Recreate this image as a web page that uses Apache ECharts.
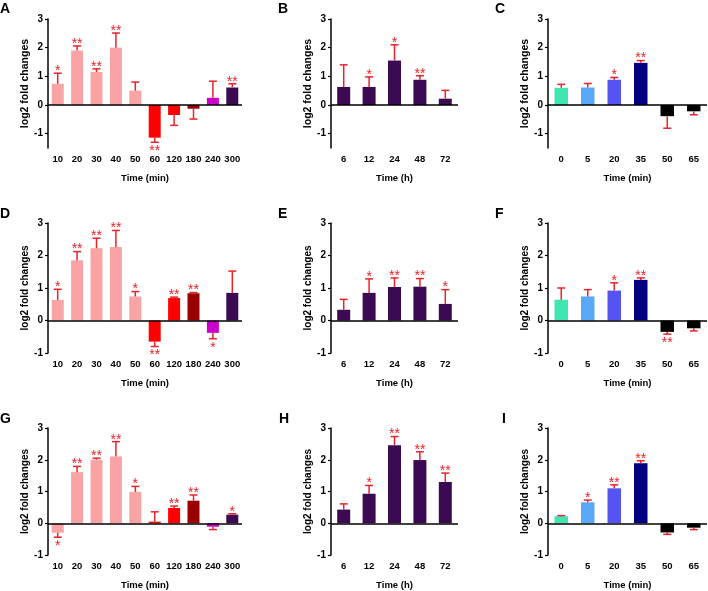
<!DOCTYPE html>
<html>
<head>
<meta charset="utf-8">
<script src="https://cdn.jsdelivr.net/npm/echarts@6/dist/echarts.min.js"></script>
<style>html,body{margin:0;padding:0;background:#fff}#c{width:708px;height:591px}</style>
</head>
<body>
<div id="c"></div>
<script>
// ---------- categories ----------
const catsMin10 = ['10','20','30','40','50','60','120','180','240','300'];
const catsHours = ['6','12','24','48','72'];
const catsMin6  = ['0','5','20','35','50','65'];

// ---------- values (log2 fold changes), error-bar ends, significance ----------
const valsA = [0.74,1.90,1.15,2.00,0.50,-1.14,-0.35,-0.13,0.25,0.61];
const errA  = [1.11,2.06,1.26,2.51,0.80,-1.30,-0.71,-0.49,0.83,0.74];
const sigA  = ['*','**','**','**','','**','','','','**'];

const valsB = [0.63,0.63,1.55,0.88,0.22];
const errB  = [1.40,0.98,2.10,1.02,0.51];
const sigB  = ['','*','*','**',''];

const valsC = [0.60,0.61,0.88,1.47,-0.39,-0.22];
const errC  = [0.72,0.75,0.96,1.55,-0.81,-0.34];
const sigC  = ['','','*','**','',''];

const valsD = [0.63,1.85,2.22,2.26,0.74,-0.65,0.69,0.84,-0.38,0.85];
const errD  = [0.96,2.12,2.53,2.77,0.89,-0.80,0.72,0.86,-0.56,1.52];
const sigD  = ['*','**','**','**','*','**','**','**','*',''];

const valsE = [0.33,0.85,1.03,1.04,0.51];
const errE  = [0.65,1.28,1.31,1.29,0.95];
const sigE  = ['','*','**','**','*'];

const valsF = [0.64,0.74,0.92,1.25,-0.35,-0.24];
const errF  = [1.00,0.95,1.16,1.31,-0.42,-0.32];
const sigF  = ['','','*','**','**',''];

const valsG = [-0.30,1.61,2.00,2.10,0.99,0.05,0.48,0.71,-0.11,0.27];
const errG  = [-0.44,1.79,2.05,2.57,1.16,0.36,0.54,0.89,-0.20,0.30];
const sigG  = ['*','**','**','**','*','','**','**','','*'];

const valsH = [0.43,0.93,2.46,1.99,1.30];
const errH  = [0.61,1.19,2.73,2.25,1.58];
const sigH  = ['','*','**','**','**'];

const valsI = [0.22,0.66,1.10,1.89,-0.29,-0.14];
const errI  = [0.24,0.73,1.21,1.97,-0.35,-0.20];
const sigI  = ['','*','**','**','',''];

const yTicks = [-1,0,1,2,3];

// ---------- colours ----------
const PINK='#f9a3a4', RED='#fe0000', DRED='#9b0000', MAG='#cc00cc', PURP='#3b0a52';
const colorsMin10 = [PINK,PINK,PINK,PINK,PINK,RED,RED,DRED,MAG,PURP];
const colorsHours = [PURP,PURP,PURP,PURP,PURP];
const colorsMin6  = ['#3fe6b2','#5aa9f7','#5454f2','#000080','#000000','#000000'];
const ERR = '#e8232a';
const FONT = '"Liberation Sans", Arial, sans-serif';

// ---------- layout ----------
const cols = [{left:48,width:194,barW:12,cap:8},{left:331,width:127,barW:13,cap:8},{left:548,width:159,barW:13.5,cap:8}];
const rows = [{top:19,height:129,min:-1.5,nameFs:10.5},{top:223,height:130,min:-1,nameFs:10},{top:428,height:131,min:-1,nameFs:10}];

const panels = [
  {L:'A',r:0,c:0,cats:catsMin10,vals:valsA,errs:errA,sig:sigA,colors:colorsMin10,xName:'Time (min)',lx:0,ly:2},
  {L:'B',r:0,c:1,cats:catsHours,vals:valsB,errs:errB,sig:sigB,colors:colorsHours,xName:'Time (h)',lx:278,ly:2},
  {L:'C',r:0,c:2,cats:catsMin6,vals:valsC,errs:errC,sig:sigC,colors:colorsMin6,xName:'Time (min)',lx:495,ly:2},
  {L:'D',r:1,c:0,cats:catsMin10,vals:valsD,errs:errD,sig:sigD,colors:colorsMin10,xName:'Time (min)',lx:0,ly:207},
  {L:'E',r:1,c:1,cats:catsHours,vals:valsE,errs:errE,sig:sigE,colors:colorsHours,xName:'Time (h)',lx:278,ly:207},
  {L:'F',r:1,c:2,cats:catsMin6,vals:valsF,errs:errF,sig:sigF,colors:colorsMin6,xName:'Time (min)',lx:495,ly:207},
  {L:'G',r:2,c:0,cats:catsMin10,vals:valsG,errs:errG,sig:sigG,colors:colorsMin10,xName:'Time (min)',lx:0,ly:412},
  {L:'H',r:2,c:1,cats:catsHours,vals:valsH,errs:errH,sig:sigH,colors:colorsHours,xName:'Time (h)',lx:279,ly:412},
  {L:'I',r:2,c:2,cats:catsMin6,vals:valsI,errs:errI,sig:sigI,colors:colorsMin6,xName:'Time (min)',lx:502,ly:412}
];

const grid=[], xAxis=[], yAxis=[], series=[], graphic=[];
panels.forEach((p,k)=>{
  const col=cols[p.c], row=rows[p.r];
  grid.push({left:col.left, top:row.top, width:col.width, height:row.height, containLabel:false});
  xAxis.push({
    type:'category', gridIndex:k, data:p.cats,
    axisLine:{show:false,onZero:false}, axisTick:{show:false},
    axisLabel:{color:'#000',fontFamily:FONT,fontWeight:'bold',fontSize:9.5,margin:6,interval:0},
    name:p.xName, nameLocation:'middle', nameGap:25,
    nameTextStyle:{color:'#000',fontFamily:FONT,fontWeight:'bold',fontSize:9.5}
  });
  yAxis.push({
    type:'value', gridIndex:k, min:row.min, max:3, interval:0.5,
    axisLine:{show:true,lineStyle:{color:'#000',width:1.5}},
    axisTick:{show:true,length:3,lineStyle:{color:'#000',width:1.2},customValues:yTicks},
    axisLabel:{color:'#000',fontFamily:FONT,fontWeight:'bold',fontSize:10,margin:5,customValues:yTicks},
    splitLine:{show:false},
    name:'log2 fold changes', nameLocation:'middle', nameGap:15,
    nameTextStyle:{color:'#000',fontFamily:FONT,fontWeight:'bold',fontSize:row.nameFs}
  });
  series.push({
    type:'bar', xAxisIndex:k, yAxisIndex:k, barWidth:col.barW,
    data:p.vals.map((v,i)=>({value:v,itemStyle:{color:p.colors[i]}})),
    markLine:{silent:true,symbol:['none','none'],label:{show:false},animation:false,
      lineStyle:{color:'#000',width:1.5,type:'solid'},data:[{yAxis:0}]},
    animation:false
  });
  const sig=p.sig, cap=col.cap;
  series.push({
    type:'custom', xAxisIndex:k, yAxisIndex:k, clip:false, z:5, animation:false,
    data:p.vals.map((v,i)=>[i,v,p.errs[i]]),
    encode:{x:0,y:[1,2]},
    renderItem:function(params,api){
      const i=api.value(0), v=api.value(1), e=api.value(2);
      const p0=api.coord([i,v]), p1=api.coord([i,e]);
      const x=p0[0], up=v>=0;
      const ch=[
        {type:'line',shape:{x1:x,y1:p0[1],x2:x,y2:p1[1]},style:{stroke:ERR,lineWidth:1.5}},
        {type:'line',shape:{x1:x-cap/2,y1:p1[1],x2:x+cap/2,y2:p1[1]},style:{stroke:ERR,lineWidth:1.5}}
      ];
      if(sig[i]){
        ch.push({type:'text',x:x,y:up?p1[1]-2:p1[1]+9,
          style:{text:sig[i],fill:ERR,font:'14px '+FONT,align:'center',verticalAlign:'middle'}});
      }
      return {type:'group',children:ch};
    }
  });
  graphic.push({type:'text',left:p.lx,top:p.ly,style:{text:p.L,fill:'#000',font:'bold 14px '+FONT}});
});

const chart=echarts.init(document.getElementById('c'),null,{renderer:'canvas'});
chart.setOption({backgroundColor:'#fff',animation:false,grid,xAxis,yAxis,series,graphic});
</script>
</body>
</html>
